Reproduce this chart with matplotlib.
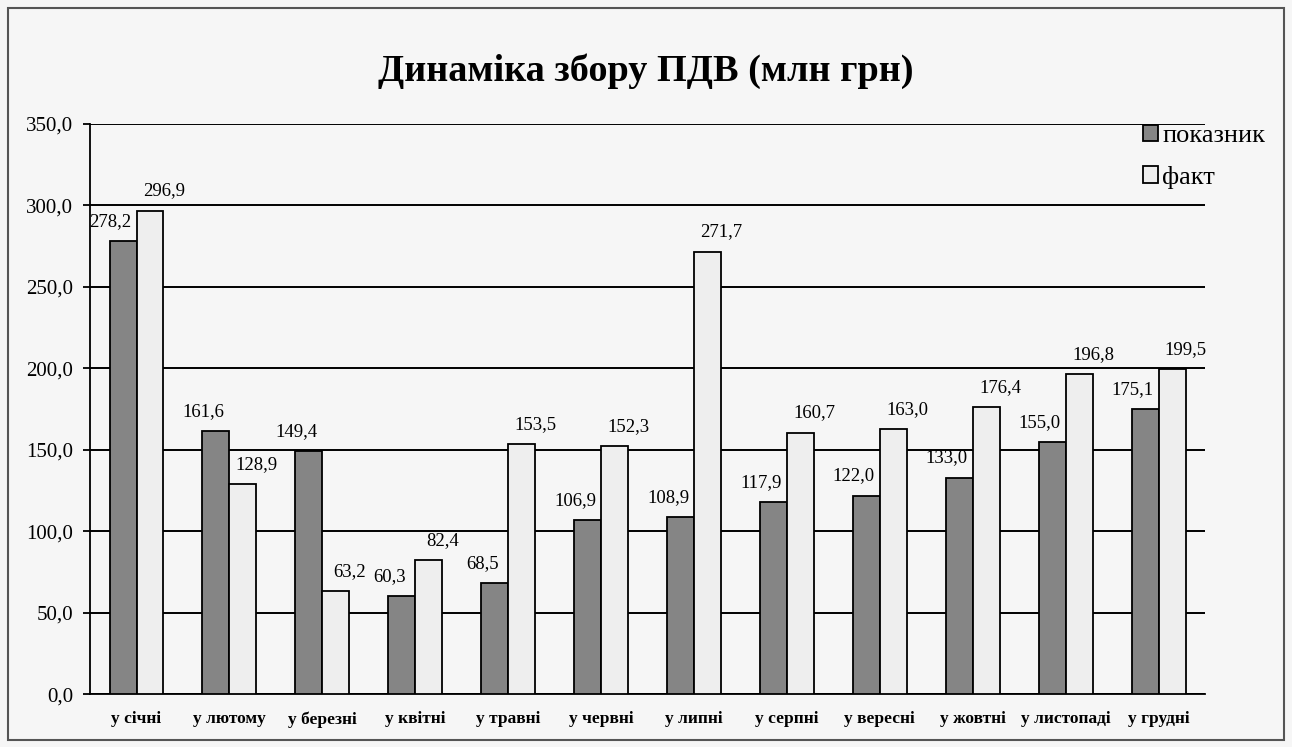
import numpy as np
import matplotlib
matplotlib.use("Agg")
import matplotlib.pyplot as plt
from matplotlib.patches import Rectangle

plt.rcParams['font.family'] = ['Liberation Serif', 'DejaVu Serif']

months = ["у січні", "у лютому", "у березні", "у квітні", "у травні", "у червні",
          "у липні", "у серпні", "у вересні", "у жовтні", "у листопаді", "у грудні"]
pokaznyk = [278.2, 161.6, 149.4, 60.3, 68.5, 106.9, 108.9, 117.9, 122.0, 133.0, 155.0, 175.1]
fakt = [296.9, 128.9, 63.2, 82.4, 153.5, 152.3, 271.7, 160.7, 163.0, 176.4, 196.8, 199.5]
yticks = [0, 50, 100, 150, 200, 250, 300, 350]

def fmt(v):
    return f"{v:.1f}".replace(".", ",")

fig = plt.figure(figsize=(12.92, 7.47), dpi=100, facecolor="#f6f6f6")
fig.patches.append(Rectangle((0.006, 0.009), 0.988, 0.98, transform=fig.transFigure,
                             fill=False, edgecolor="#555555", linewidth=1.5))
ax = fig.add_axes([0.0697, 0.0703, 0.863, 0.7637])
ax.set_facecolor("#f6f6f6")

x = np.arange(len(months))
w = 0.29
b1 = ax.bar(x - w / 2, pokaznyk, w, color="#858585", edgecolor="black", linewidth=1.3,
            label="показник", zorder=3)
b2 = ax.bar(x + w / 2, fakt, w, color="#eeeeee", edgecolor="black", linewidth=1.3,
            label="факт", zorder=3)

for xi, v in zip(x, pokaznyk):
    ax.annotate(fmt(v), (xi - w / 2, v), xytext=(-9, 8), textcoords="offset points",
                ha="center", va="bottom", fontsize=13.5)
for xi, v in zip(x, fakt):
    ax.annotate(fmt(v), (xi + w / 2, v), xytext=(10, 8), textcoords="offset points",
                ha="center", va="bottom", fontsize=13.5)

ax.set_xlim(-0.5, len(months) - 0.5)
ax.set_ylim(0, 350)
ax.set_yticks(yticks)
ax.set_yticklabels([fmt(t) for t in yticks], fontsize=15)
ax.set_xticks(x)
ax.set_xticklabels(months, fontsize=12.5, fontweight="bold")
ax.tick_params(axis="x", length=0, pad=12)
ax.tick_params(axis="y", length=5, width=1.3, pad=7)
ax.yaxis.grid(True, color="black", linewidth=1.4)
ax.set_axisbelow(True)
for s in ["top", "right"]:
    ax.spines[s].set_visible(False)
ax.spines["left"].set_linewidth(1.3)
ax.spines["bottom"].set_linewidth(1.3)

fig.text(0.5, 0.905, "Динаміка збору ПДВ (млн грн)", ha="center", va="center",
         fontsize=27.5, fontweight="bold")

fig.legend(handles=[b1, b2], loc="upper left", bbox_to_anchor=(0.866, 0.865),
           frameon=False, fontsize=19, handlelength=0.6, handleheight=0.6,
           handletextpad=0.15, labelspacing=0.7)

fig.savefig("out.png", dpi=100, facecolor=fig.get_facecolor())
